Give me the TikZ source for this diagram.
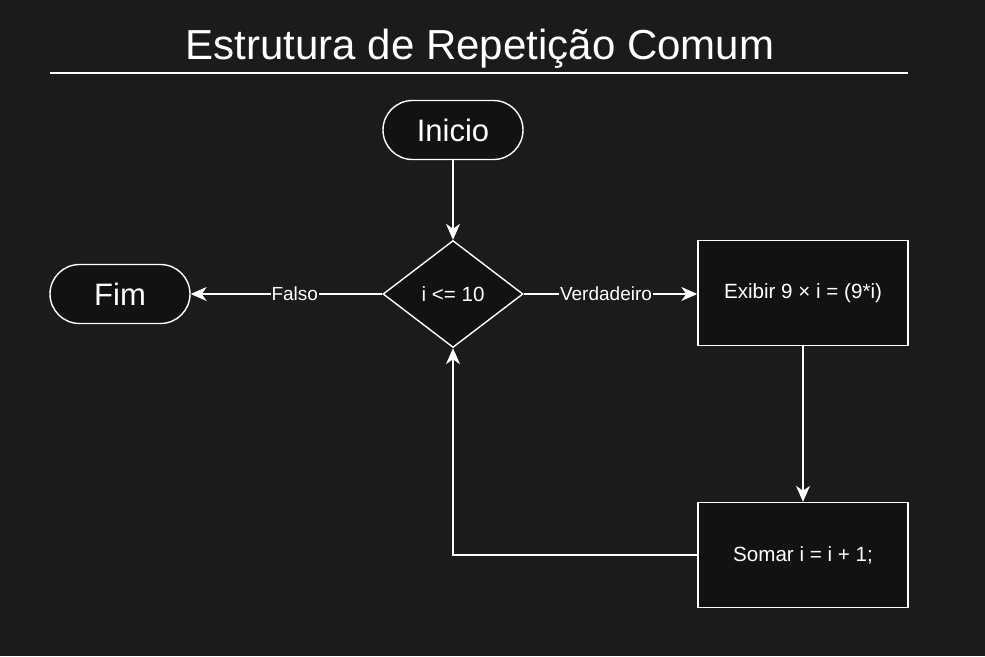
\documentclass[tikz,border=0pt]{standalone}
\usepackage{fontspec}
\setmainfont{Liberation Sans}
\usetikzlibrary{shapes.geometric,arrows.meta}
\definecolor{bg}{HTML}{1B1B1B}
\definecolor{nodefill}{HTML}{121212}
\begin{document}
\begin{tikzpicture}[x=1pt,y=-1pt,
  every node/.style={text=white},
  base/.style={draw=white,line width=1.4pt,fill=nodefill,inner sep=0pt},
  term/.style={base,rounded corners=29.5pt,minimum width=140pt,minimum height=59pt,font=\fontsize{31}{36}\selectfont},
  procbox/.style={base,minimum width=210pt,minimum height=105pt,font=\fontsize{20.6}{24}\selectfont},
  decision/.style={base,diamond,minimum width=140pt,minimum height=107pt,aspect=1.31,font=\fontsize{20.6}{24}\selectfont},
  conn/.style={draw=white,line width=1.4pt,-{Stealth[length=16pt,width=14pt,inset=5pt]}},
  elabel/.style={fill=bg,inner sep=1pt,font=\fontsize{19}{22}\selectfont}
]
\fill[bg] (0,0) rectangle (985,656);
\useasboundingbox (0,0) rectangle (985,656);
\node[font=\fontsize{42}{50}\selectfont] (title) at (480,49) {Estrutura de Repetição Comum};
\coordinate (tl) at (50,73);
\coordinate (tr) at (908,73);
\draw[white,line width=1.4pt] (tl) -- (tr);
\node[term] (inicio) at (453,130) {Inicio};
\node[term] (fim) at (120,294) {Fim};
\node[decision] (cond) at (453,294) {i <= 10};
\node[procbox] (exibir) at (803,293) {\raisebox{-1.5pt}{Exibir 9 × i = (9*i)}};
\node[procbox] (somar) at (803,555) {Somar i = i + 1;};
\coordinate (corner) at (453,555);
\draw[conn] (inicio) -- (cond);
\draw[conn] (cond) -- node[elabel,pos=0.457] {Falso} (fim);
\draw[conn] (cond) -- node[elabel,pos=0.474] {Verdadeiro} (exibir.west |- cond);
\draw[conn] (exibir) -- (somar);
\draw[conn] (somar.west) -- (corner) -- (cond.south);
\end{tikzpicture}
\end{document}
